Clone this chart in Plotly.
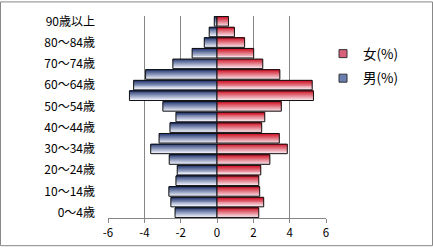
import plotly.graph_objects as go

categories = ["0～4歳", "5～9歳", "10～14歳", "15～19歳", "20～24歳", "25～29歳",
              "30～34歳", "35～39歳", "40～44歳", "45～49歳", "50～54歳", "55～59歳",
              "60～64歳", "65～69歳", "70～74歳", "75～79歳", "80～84歳", "85～89歳",
              "90歳以上"]
male = [-2.31, -2.54, -2.65, -2.26, -2.19, -2.63, -3.65, -3.19, -2.59, -2.26,
        -2.98, -4.82, -4.59, -3.93, -2.43, -1.37, -0.70, -0.43, -0.15]
female = [2.30, 2.57, 2.35, 2.30, 2.41, 2.91, 3.87, 3.43, 2.46, 2.63,
          3.54, 5.31, 5.24, 3.46, 2.52, 2.02, 1.52, 0.96, 0.63]
tick_labels = categories[::2]
x_ticks = [-6, -4, -2, 0, 2, 4, 6]

W = 0.9
N = 10


def lerp(c1, c2, t):
    return "rgb(%d,%d,%d)" % tuple(round(a + (b - a) * t) for a, b in zip(c1, c2))


blue_top, blue_bot = (30, 50, 110), (228, 233, 245)
red_top, red_bot = (205, 10, 30), (245, 215, 222)

fig = go.Figure()
for vals, ctop, cbot in [(male, blue_top, blue_bot), (female, red_top, red_bot)]:
    for k in range(N):
        t = k / (N - 1)
        fig.add_trace(go.Bar(
            x=vals, y=categories, orientation="h",
            width=W / N + 0.005, offset=W / 2 - (k + 1) * W / N,
            marker=dict(color=lerp(ctop, cbot, t), line=dict(width=0)),
            showlegend=False, hoverinfo="skip"))
    fig.add_trace(go.Bar(
        x=vals, y=categories, orientation="h",
        width=W, offset=-W / 2,
        marker=dict(color="rgba(0,0,0,0)", line=dict(color="#111111", width=1)),
        showlegend=False, hoverinfo="skip"))

fig.add_trace(go.Scatter(x=[None], y=[None], mode="markers", name="女(%)",
                         legendgroup="f",
                         marker=dict(symbol="square", size=8, color="#d8607a",
                                     line=dict(color="#333333", width=1)),
                         legendrank=1))
fig.add_trace(go.Scatter(x=[None], y=[None], mode="markers", name="男(%)",
                         legendgroup="m",
                         marker=dict(symbol="square", size=8, color="#6a7eb0",
                                     line=dict(color="#333333", width=1)),
                         legendrank=2))

ml, mr, mt, mb = 108, 107, 15, 29
pw, ph = 433 - ml - mr, 252 - mt - mb

fig.update_layout(
    width=433, height=252,
    margin=dict(l=ml, r=mr, t=mt, b=mb),
    barmode="overlay",
    plot_bgcolor="white", paper_bgcolor="white",
    font=dict(family="Noto Sans CJK JP", size=11.5, color="#000000"),
    legend=dict(x=(323 - ml) / pw, y=(252 - mb - 38) / ph, xanchor="left", yanchor="top",
                font=dict(size=13.5), itemwidth=30, tracegroupgap=4,
                bgcolor="rgba(0,0,0,0)"),
    xaxis=dict(range=[-6, 6], tickvals=x_ticks, ticktext=[str(v) for v in x_ticks],
               showgrid=True, gridcolor="#868686", gridwidth=1,
               zeroline=True, zerolinecolor="#868686", zerolinewidth=1,
               showline=True, linecolor="#868686", linewidth=1,
               ticks="outside", ticklen=4, tickcolor="#868686",
               fixedrange=True),
    yaxis=dict(type="category", categoryorder="array", categoryarray=categories,
               tickvals=tick_labels, ticktext=tick_labels,
               tickfont=dict(size=12),
               range=[-0.5, len(categories) - 0.5],
               showgrid=False, zeroline=False, showline=False, ticks="",
               ticklabelstandoff=12),
    shapes=[dict(type="rect", xref="paper", yref="paper",
                 x0=(0.5 - ml) / pw, x1=(432.5 - ml) / pw,
                 y0=(0.5 - mb) / ph, y1=(251.5 - mb) / ph,
                 line=dict(color="#888888", width=1), fillcolor="rgba(0,0,0,0)",
                 layer="below")],
)

fig.write_html("out.html")
